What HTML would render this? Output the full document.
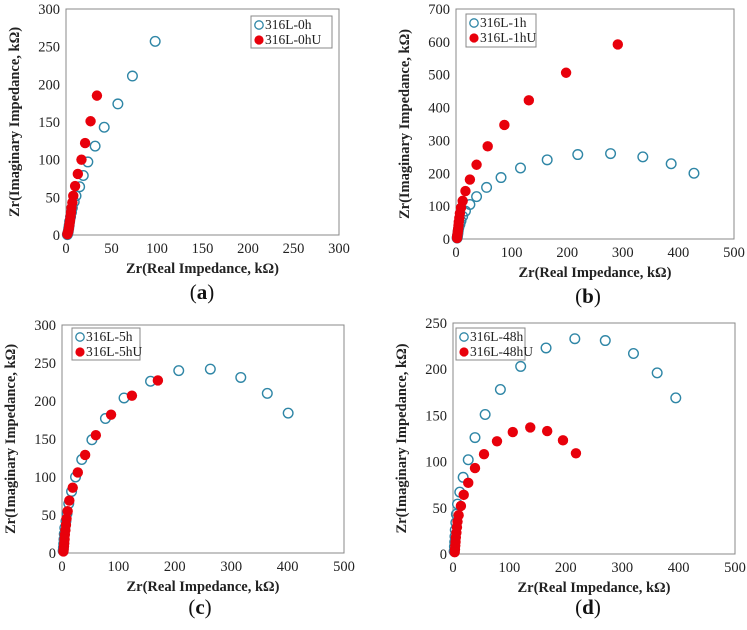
<!DOCTYPE html>
<html><head><meta charset="utf-8"><style>
body{margin:0;background:#fff;}
svg{display:block;font-family:"Liberation Serif",serif;}
</style></head><body>
<svg id="c" width="747" height="630" viewBox="0 0 747 630"></svg>
<script>
// Panel (a)
const aOpenX=[98,73,57,42,32,24,19,15,11,9,7,6,5,4,3.5,3,2.5,2,1.5];
const aOpenY=[257,211,174,143,118,97,79,64,52,44,36,30,24,18,13,9,5,2,0.5];
const aFillX=[34,27,21,17,13,10,8,7,6,5.5,5,4.5,4,3.5,3,2.5,2,1.5];
const aFillY=[185,151,122,100,81,65,52,43,36,30,25,20,16,12,8,5,3,1];
const aXTicks=[0,50,100,150,200,250,300];
const aYTicks=[0,50,100,150,200,250,300];
// Panel (b)
const bOpenX=[428,387,336,278,219,164,116,81,55,37,25,17,12,9,7,5,4,3.5,3,2.5,2];
const bOpenY=[200,229,250,260,257,241,216,187,157,129,105,85,69,55,44,34,25,18,12,7,3];
const bFillX=[291,198,131,87,57,37,25,17,12,9,7,6,5,4.5,4,3.5,3,2.5,2,2];
const bFillY=[592,506,422,347,282,226,181,146,116,95,78,64,52,42,33,25,18,12,7,3];
const bXTicks=[0,100,200,300,400,500];
const bYTicks=[0,100,200,300,400,500,600,700];
// Panel (c)
const cOpenX=[401,364,317,263,207,157,110,77,53,35,24,17,12,9,7,5,4,3.5,3,2.5,2];
const cOpenY=[184,210,231,242,240,226,204,177,149,123,100,81,65,52,42,33,25,18,12,7,3];
const cFillX=[170,124,87,60,41,28,19,13,10,8,7,6,5,4.5,4,3.5,3,2.5];
const cFillY=[227,207,182,155,129,106,86,69,55,45,37,30,24,18,13,9,5,2];
const cXTicks=[0,100,200,300,400,500];
const cYTicks=[0,50,100,150,200,250,300];
// Panel (d)
const dOpenX=[395,362,320,270,216,165,120,84,57,39,27,18,12,8,6,5,4,3.5,3,2.5,2];
const dOpenY=[169,196,217,231,233,223,203,178,151,126,102,83,67,54,43,34,26,19,13,8,3];
const dFillX=[218,195,167,137,106,78,55,39,27,19,14,10,8,7,6,5,4.5,4,3.5,3];
const dFillY=[109,123,133,137,132,122,108,93,77,64,52,42,35,29,23,18,13,9,5,2];
const dXTicks=[0,100,200,300,400,500];
const dYTicks=[0,50,100,150,200,250];

const NS="http://www.w3.org/2000/svg";
const svg=document.getElementById('c');
function mk(tag,attrs,parent,text){const e=document.createElementNS(NS,tag);for(const k in attrs)e.setAttribute(k,attrs[k]);if(text!==undefined)e.textContent=text;parent.appendChild(e);return e;}

const panels=[
 {id:'a',x0:66,x1:339,y0:235,y1:9,xmax:300,ymax:300,xt:aXTicks,yt:aYTicks,ox:aOpenX,oy:aOpenY,fx:aFillX,fy:aFillY,leg:[251,16,81,32],names:['316L-0h','316L-0hU'],lab:[202,299]},
 {id:'b',x0:456,x1:734,y0:239,y1:9,xmax:500,ymax:700,xt:bXTicks,yt:bYTicks,ox:bOpenX,oy:bOpenY,fx:bFillX,fy:bFillY,leg:[466,14,70,33],names:['316L-1h','316L-1hU'],lab:[588,303]},
 {id:'c',x0:62,x1:344,y0:553,y1:325,xmax:500,ymax:300,xt:cXTicks,yt:cYTicks,ox:cOpenX,oy:cOpenY,fx:cFillX,fy:cFillY,leg:[72,328,68,32],names:['316L-5h','316L-5hU'],lab:[200,614]},
 {id:'d',x0:453,x1:735,y0:554,y1:323,xmax:500,ymax:250,xt:dXTicks,yt:dYTicks,ox:dOpenX,oy:dOpenY,fx:dFillX,fy:dFillY,leg:[456,328,69,32],names:['316L-48h','316L-48hU'],lab:[588,614]}
];
const OPEN='#2f86a6', RED='#e8000b';
panels.forEach(p=>{
 const g=mk('g',{},svg);
 
 
 const sx=v=>p.x0+(v/p.xmax)*(p.x1-p.x0);
 const sy=v=>p.y0-(v/p.ymax)*(p.y0-p.y1);
 const frame=mk('rect',{x:p.x0,y:p.y1,width:p.x1-p.x0,height:p.y0-p.y1,fill:'none',stroke:'#888','stroke-width':1},g);
 
 
 p.xt.forEach(v=>{
  const t=mk('text',{x:sx(v),y:p.y0+18,'text-anchor':'middle','font-size':14.5,fill:'#222'},g,String(v));
  
  
 });
 p.yt.forEach(v=>{
  const t=mk('text',{x:p.x0-6,y:sy(v)+5,'text-anchor':'end','font-size':14.5,fill:'#222'},g,String(v));
  
  
 });
 const xt=mk('text',{x:(p.x0+p.x1)/2,y:p.y0+38,'text-anchor':'middle','font-size':14.5,'font-weight':'bold',fill:'#222'},g,'Zr(Real Impedance, kΩ)');
 
 
 const yx=p.x0-47, yy=(p.y0+p.y1)/2;
 const yt=mk('text',{x:yx,y:yy,'text-anchor':'middle','font-size':14.5,'font-weight':'bold',fill:'#222',transform:'rotate(-90 '+yx+' '+yy+')'},g,'Zr(Imaginary Impedance, kΩ)');
 
 
 p.ox.forEach((v,i)=>{
  const c=mk('circle',{cx:sx(v),cy:sy(p.oy[i]),r:4.8,fill:'none',stroke:OPEN,'stroke-width':1.4},g);
  
  
 });
 p.fx.forEach((v,i)=>{
  const c=mk('circle',{cx:sx(v),cy:sy(p.fy[i]),r:5.2,fill:RED},g);
  
  
 });
 const [lx,ly,lw,lh]=p.leg;
 const lg=mk('g',{},g);
 
 
 mk('rect',{x:lx,y:ly,width:lw,height:lh,fill:'#fff',stroke:'#888','stroke-width':1},lg);
 mk('circle',{cx:lx+8,cy:ly+9,r:4.2,fill:'none',stroke:OPEN,'stroke-width':1.3},lg);
 const l1=mk('text',{x:lx+14,y:ly+13,'font-size':13.5,fill:'#222'},lg,p.names[0]);
 
 
 mk('circle',{cx:lx+8,cy:ly+24,r:4.6,fill:RED},lg);
 const l2=mk('text',{x:lx+14,y:ly+28,'font-size':13.5,fill:'#222'},lg,p.names[1]);
 
 
 const pl=mk('text',{x:p.lab[0],y:p.lab[1],'text-anchor':'middle','font-size':21,fill:'#111'},g,'('+p.id+')');
 pl.innerHTML='(<tspan font-weight="bold">'+p.id+'</tspan>)';
 
 
});
</script>
</body></html>
